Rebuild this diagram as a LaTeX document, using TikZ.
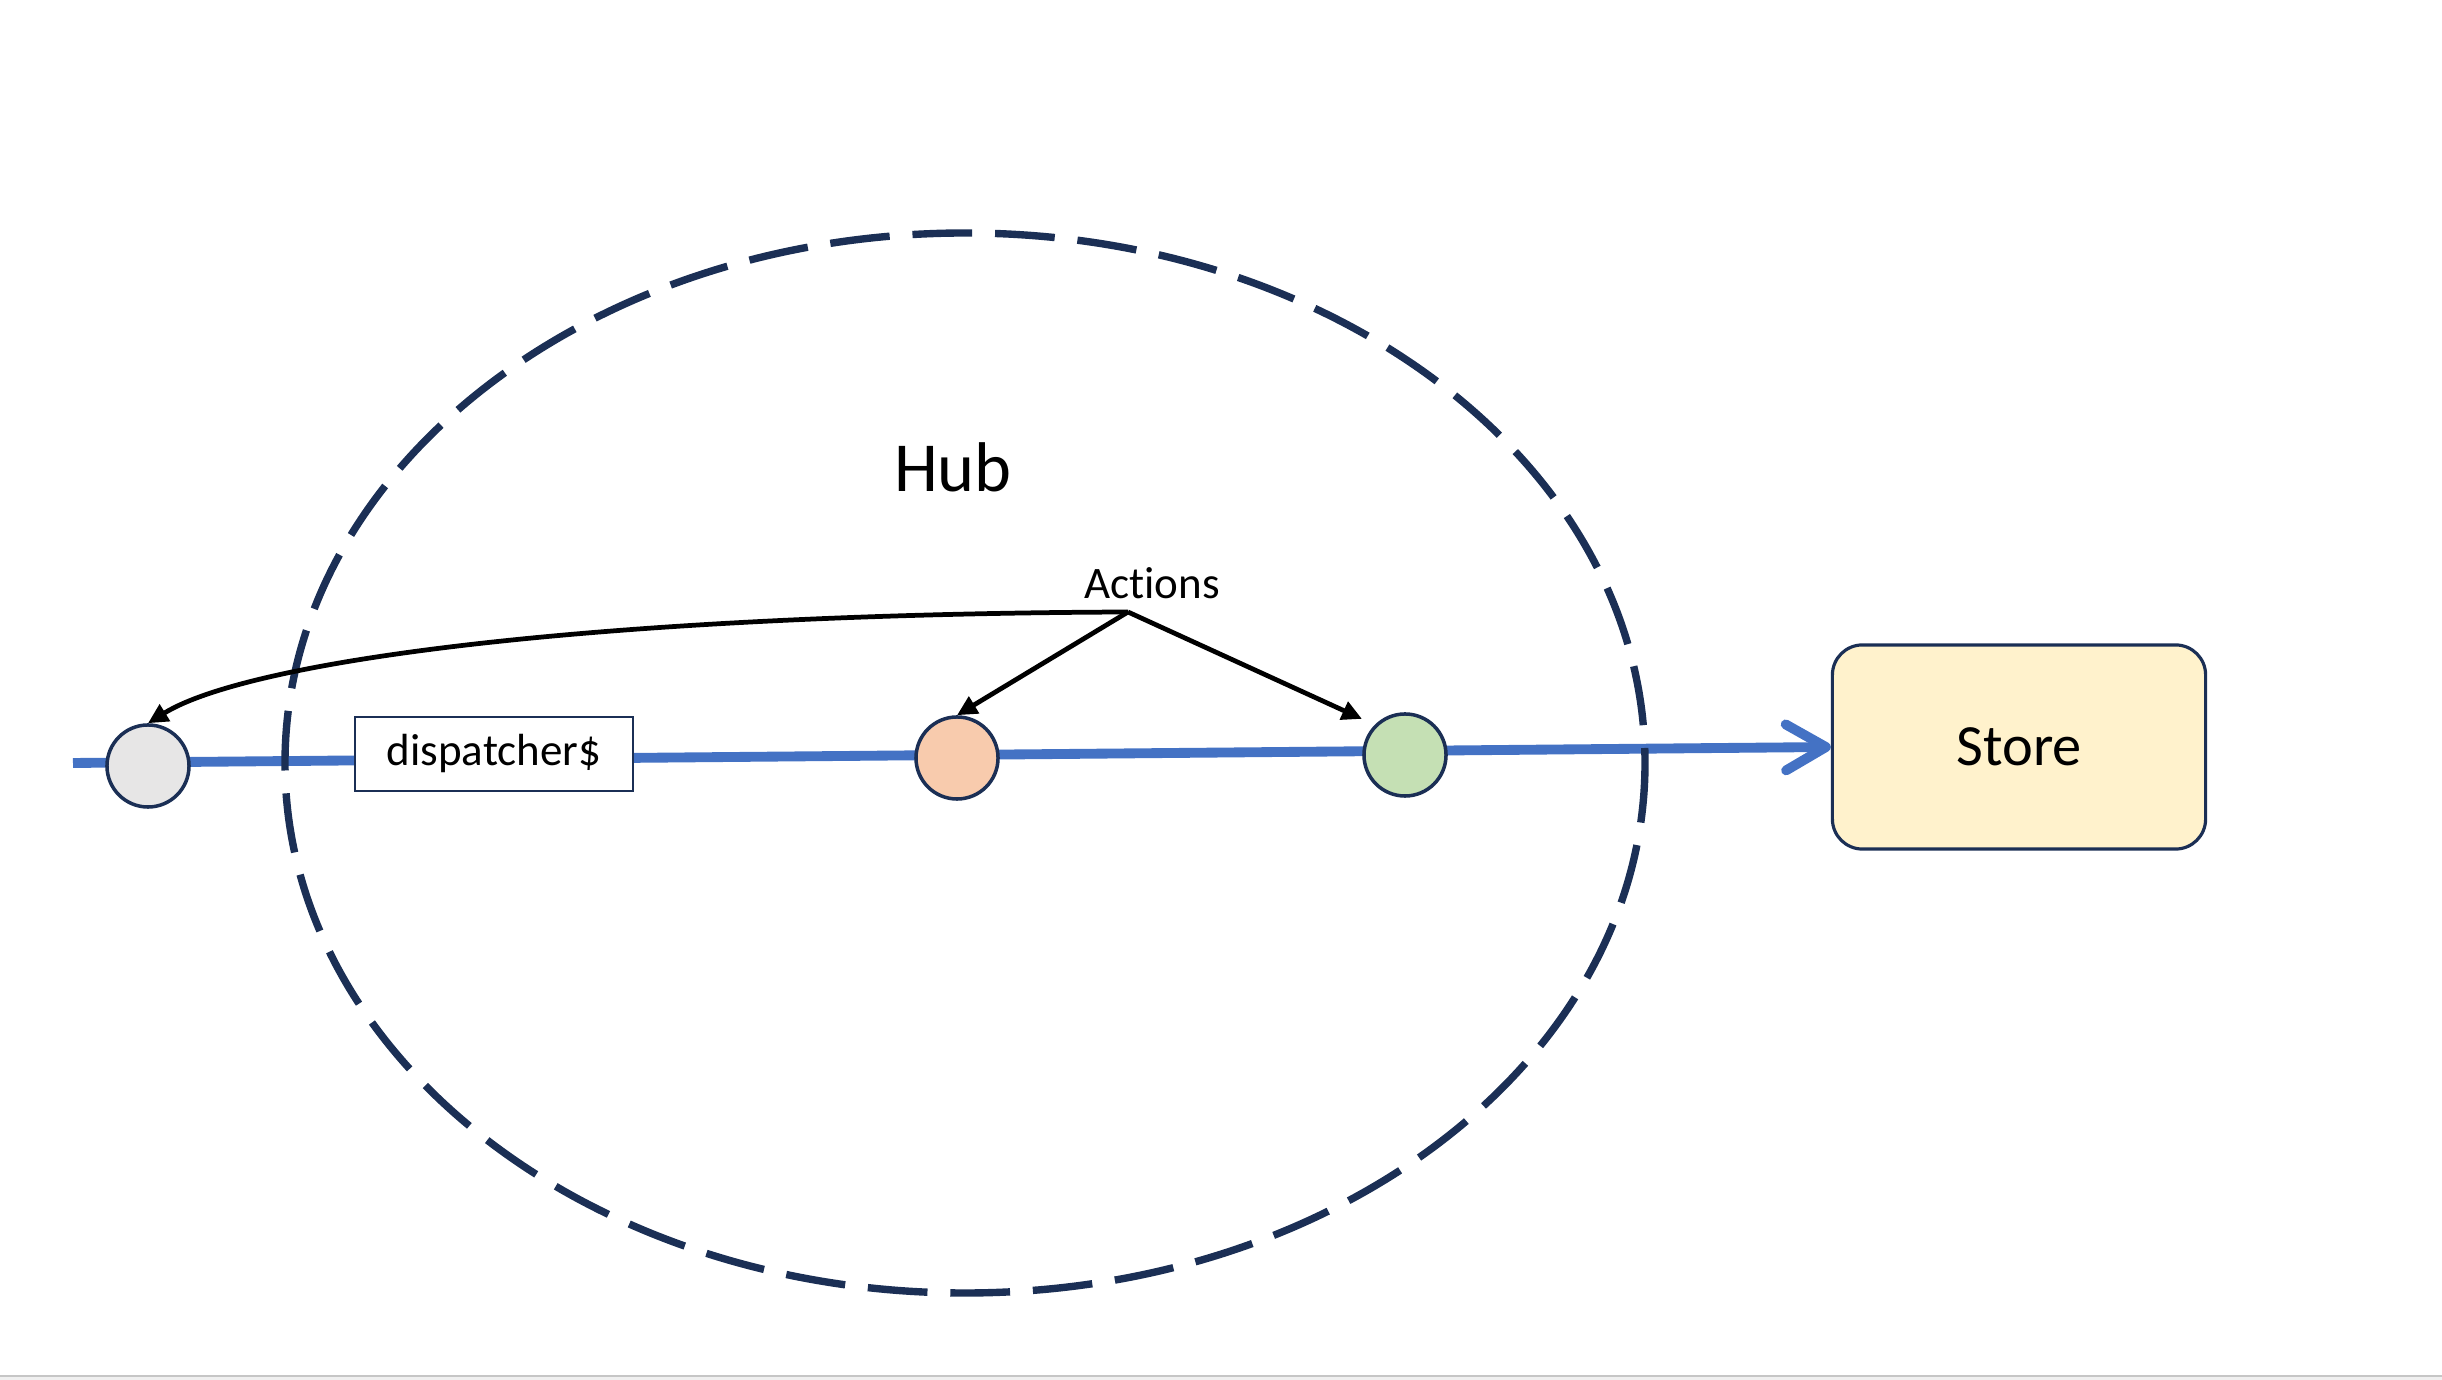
\documentclass[tikz,border=0pt]{standalone}
\usepackage{fontspec}
\setmainfont{Carlito}[Ligatures=NoCommon]
\usetikzlibrary{arrows.meta,backgrounds}
\definecolor{navy}{HTML}{1B2F55}
\definecolor{flow}{HTML}{4472C4}
\definecolor{lightgrey}{HTML}{E7E6E6}
\definecolor{lightorange}{HTML}{F8CBAD}
\definecolor{lightgreen}{HTML}{C5E0B4}
\definecolor{lightyellow}{HTML}{FFF2CC}
\tikzset{
  event/.style={circle, draw=navy, line width=1pt, minimum size=0.82cm, inner sep=0pt},
  opbox/.style={draw=navy, line width=0.6pt, fill=white, minimum width=2.78cm, minimum height=0.74cm, inner sep=0pt, font=\fontsize{12.8}{15}\selectfont},
  store/.style={draw=navy, line width=0.9pt, fill=lightyellow, rounded corners=0.3cm, minimum width=3.73cm, minimum height=2.04cm, font=\fontsize{16.6}{20}\selectfont},
  stream/.style={draw=flow, line width=2.8pt, -{Straight Barb[length=4mm, width=4.6mm, round]}},
  arrow/.style={-{Triangle[length=2mm, width=1.9mm]}, line width=1.35pt, draw=black},
  hubline/.style={draw=navy, line width=2.1pt, dash pattern=on 17pt off 6.5pt},
  label/.style={font=\fontsize{12.8}{15}\selectfont, inner sep=0pt}
}

\begin{document}
\begin{tikzpicture}[x=0.01cm, y=-0.01cm]
\useasboundingbox (0,0) rectangle (2442,1380);
% event stream
\node[event, fill=lightgrey] (init) at (148,766) {};
\node[opbox] (disp) at (494,754) {dispatcher\$};
\node[event, fill=lightorange] (act1) at (957,758) {};
\node[event, fill=lightgreen] (act2) at (1405,755) {};
\node[store] (store) at (2019,747) {Store};
\coordinate (in) at (73,763);
% hub
\node[font=\fontsize{20}{24}\selectfont] (hub) at (953,467) {Hub};
\node[label] (actions) at (1152,583) {Actions};
\coordinate (src) at (1128,612);
\begin{scope}[on background layer]
\draw[stream] (in) -- (store.west);
\draw[hubline] (965,763) ellipse [x radius=680, y radius=530];
\end{scope}
\draw[arrow] (src) .. controls (600,614) and (250,660) .. (init.north);
\draw[arrow] (src) -- (act1.north);
\draw[arrow, shorten >=4pt] (src) -- (act2.north west);
% slide edge
\fill[gray!12] (0,1376) rectangle (2442,1380);
\draw[gray!45, line width=0.3pt] (0,1376) -- (2442,1376);
\end{tikzpicture}
\end{document}
